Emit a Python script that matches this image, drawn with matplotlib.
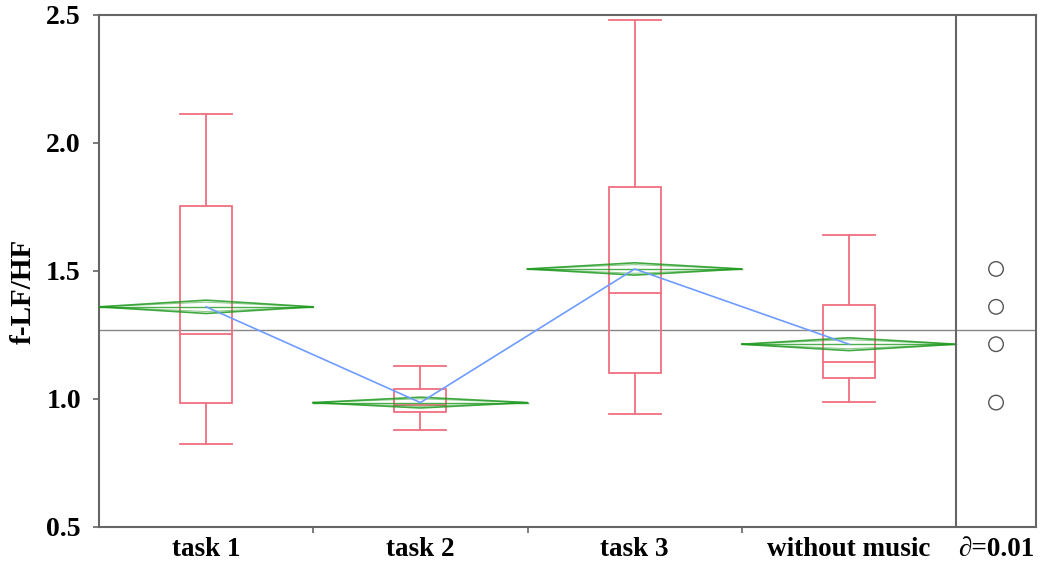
import matplotlib
matplotlib.use('agg')
import matplotlib.pyplot as plt
import numpy as np

# groups and summary statistics
groups = ["task 1", "task 2", "task 3", "without music"]
whisker_hi = [2.115, 1.130, 2.482, 1.642]
q3 = [1.754, 1.040, 1.828, 1.367]
median = [1.254, 0.975, 1.414, 1.145]
q1 = [0.984, 0.950, 1.102, 1.082]
whisker_lo = [0.826, 0.879, 0.943, 0.988]
means = [1.360, 0.986, 1.508, 1.214]
ci_half = [0.026, 0.021, 0.024, 0.025]
grand_mean = 1.27
alpha_label = "\u2202=0.01"

box_color = "#f07080"
diamond_color = "#1f9a1f"
line_color = "#6f9cff"
spine_color = "#666666"

font = ['Liberation Serif', 'DejaVu Serif']

fig = plt.figure(figsize=(10.43, 5.64), dpi=100)
ax = fig.add_axes([99 / 1043, 37 / 564, (1036 - 99) / 1043, (527 - 15) / 564])

n = len(groups)
centers = np.arange(n) + 0.5
panel_w = 0.373
box_w = 0.243

# grand mean
ax.axhline(grand_mean, color="#888888", lw=1.0, zorder=1)

for i in range(n):
    c = centers[i]
    # box
    ax.add_patch(plt.Rectangle((c - box_w / 2, q1[i]), box_w, q3[i] - q1[i],
                               fill=False, ec=box_color, lw=1.3, zorder=3))
    ax.plot([c - box_w / 2, c + box_w / 2], [median[i]] * 2, color=box_color, lw=1.3, zorder=3)
    ax.plot([c, c], [q3[i], whisker_hi[i]], color=box_color, lw=1.3, zorder=3)
    ax.plot([c, c], [whisker_lo[i], q1[i]], color=box_color, lw=1.3, zorder=3)
    ax.plot([c - box_w / 2, c + box_w / 2], [whisker_hi[i]] * 2, color=box_color, lw=1.3, zorder=3)
    ax.plot([c - box_w / 2, c + box_w / 2], [whisker_lo[i]] * 2, color=box_color, lw=1.3, zorder=3)
    # means diamond
    m, h = means[i], ci_half[i]
    dx = [i, c, i + 1, c, i]
    dy = [m, m + h, m, m - h, m]
    ax.plot(dx, dy, color=diamond_color, lw=1.2, alpha=0.85, zorder=4)
    ax.plot([i, i + 1], [m, m], color=diamond_color, lw=1.0, alpha=0.8, zorder=4)
    o = h / np.sqrt(2)
    ax.plot([i, c, i + 1], [m, m + o, m], color=diamond_color, lw=0.8, alpha=0.5, zorder=4)
    ax.plot([i, c, i + 1], [m, m - o, m], color=diamond_color, lw=0.8, alpha=0.5, zorder=4)

# line connecting means
ax.plot(centers, means, color=line_color, lw=1.2, zorder=5)

# comparison circles panel
ax.axvline(n, color=spine_color, lw=1.5, zorder=6)
ax.scatter([n + panel_w / 2] * n, means, s=110, facecolors="none",
           edgecolors="#555555", linewidths=1.0, zorder=6)

ax.set_xlim(0, n + panel_w)
ax.set_ylim(0.5, 2.5)

ax.set_yticks([0.5, 1.0, 1.5, 2.0, 2.5])
ax.set_yticklabels(["0.5", "1.0", "1.5", "2.0", "2.5"], fontfamily=font,
                   fontweight="bold", fontsize=20)
ax.set_xticks([1, 2, 3])
ax.set_xticklabels([])
ax.set_xticks(list(centers) + [n + panel_w / 2], minor=True)
ax.set_xticklabels(groups + [alpha_label], minor=True, fontfamily=font,
                   fontweight="bold", fontsize=19.5)
ax.tick_params(axis="x", which="minor", length=0, pad=7)
ax.tick_params(axis="x", which="major", length=4, color=spine_color, width=1.2)
ax.tick_params(axis="y", length=4, color=spine_color, width=1.2, pad=9)

for s in ax.spines.values():
    s.set_color(spine_color)
    s.set_linewidth(1.5)

ax.set_ylabel("f-LF/HF", fontfamily=font, fontweight="bold", fontsize=21)
ax.yaxis.set_label_coords(-0.066, 0.46)

plt.savefig("out.png", dpi=100)
plt.close(fig)
